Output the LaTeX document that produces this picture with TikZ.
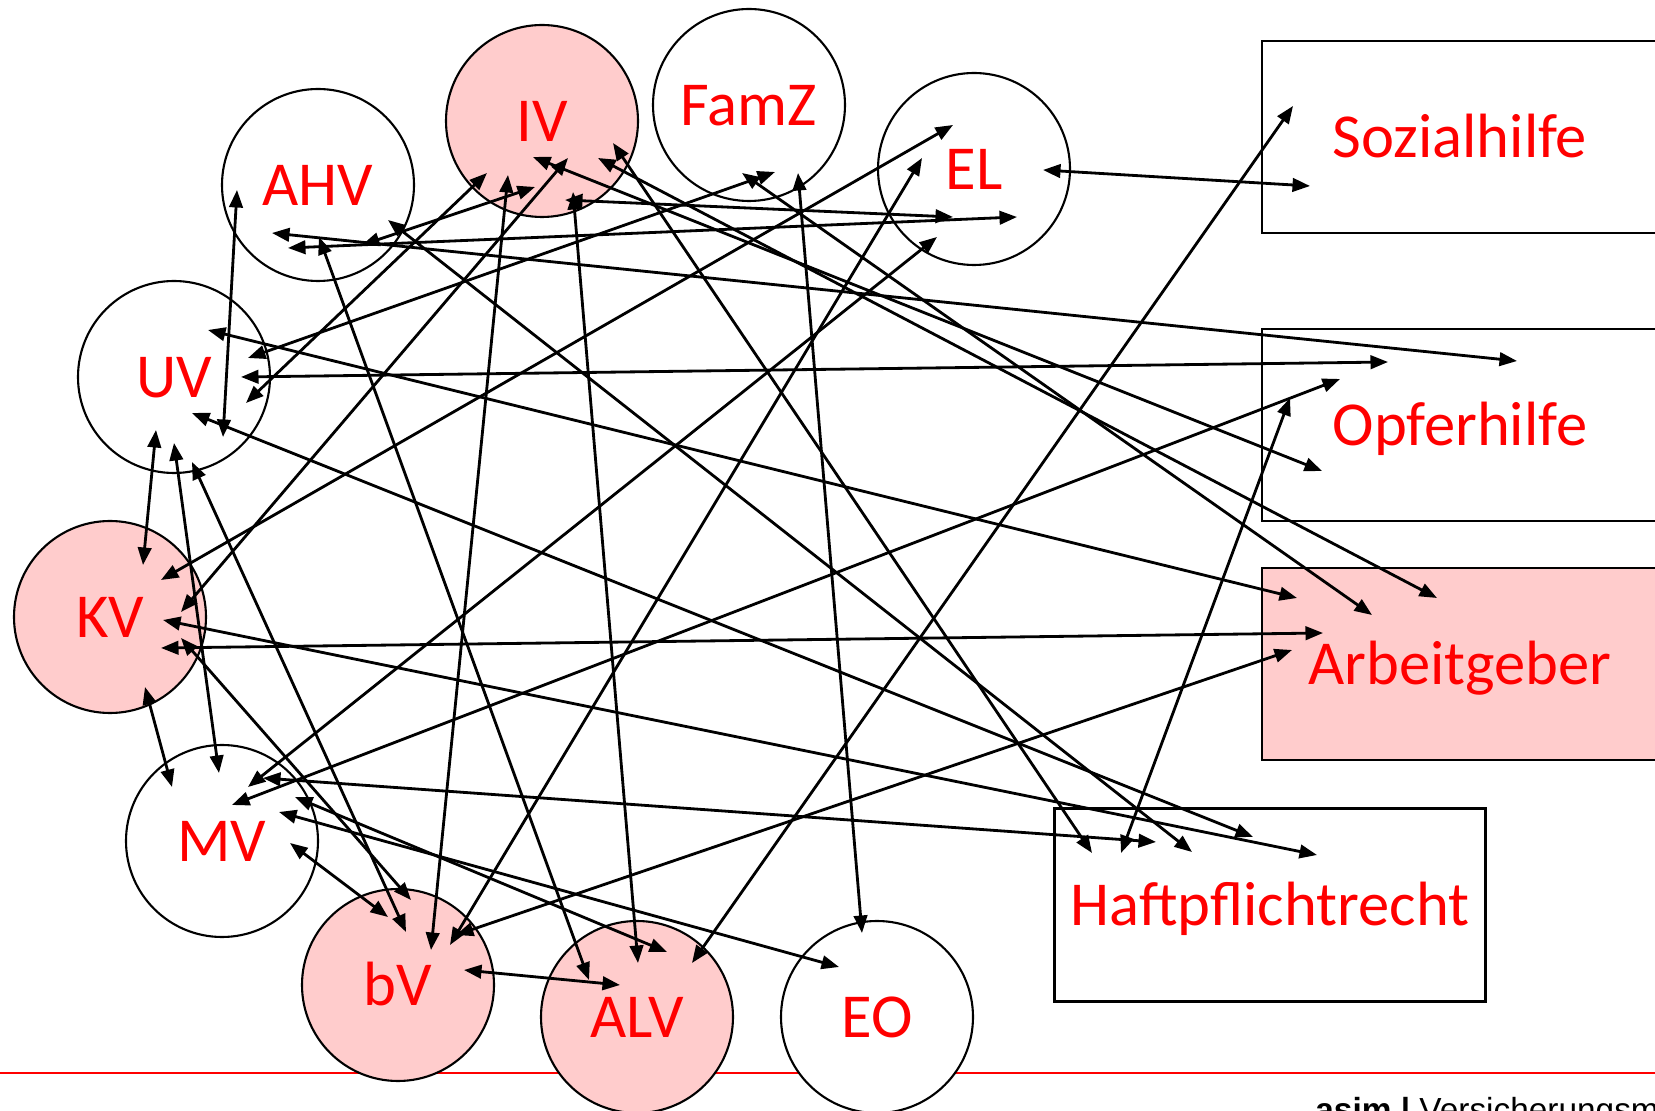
\documentclass[tikz,border=0pt]{standalone}
\usepackage{fontspec}
\setmainfont{Carlito}
\newfontfamily\footfont{Liberation Sans}
\usetikzlibrary{arrows.meta,calc}
\definecolor{lightred}{RGB}{255,204,204}
\tikzset{
	scheme/.style={circle,draw,fill=white,minimum size=19.2mm,inner sep=0pt,line width=0.6pt,text=red,font=\fontsize{17.8}{20}\selectfont,text height=11.4pt,text depth=0pt},
	field/.style={rectangle,draw,fill=white,minimum width=39.6mm,minimum height=19.2mm,inner sep=0pt,line width=0.6pt,text=red,font=\fontsize{17.8}{20}\selectfont,text height=11.4pt,text depth=0pt},
	marked/.style={fill=lightred},
	link/.style={<->,>={Triangle[length=1.75mm,width=1.35mm]},line width=0.8pt,color=black}
}

\begin{document}
\begin{tikzpicture}[x=0.1mm,y=-0.1mm]
	\useasboundingbox (0,0) rectangle (1655,1111);
	\clip (0,0) rectangle (1655,1111);
	
	\coordinate (rulel) at (0,1073);
	\coordinate (ruler) at (1655,1073);
	\draw[red,line width=0.2mm] (rulel) -- (ruler);
	\node[anchor=base east,font=\footfont\fontsize{9.5}{11}\selectfont] (page) at (10,1124) {5};
	\node[anchor=base west,font=\footfont\fontsize{9.5}{11}\selectfont] (foot) at (1303,1121) {\textbf{asim |} Versicherungsmedizin};
	
	% Sozialversicherungen
	\node [scheme] (ahv) at (318,185) {AHV};
	\node [scheme,marked] (iv) at (542,121) {IV};
	\node [scheme] (famz) at (749,105) {FamZ};
	\node [scheme] (el) at (974,169) {EL};
	\node [scheme] (uv) at (174,377) {UV};
	\node [scheme,marked] (kv) at (110,617) {KV};
	\node [scheme] (mv) at (222,841) {MV};
	\node [scheme,marked] (bv) at (398,985) {bV};
	\node [scheme,marked] (alv) at (637,1017) {ALV};
	\node [scheme] (eo) at (877,1017) {EO};
	
	% weitere Leistungstraeger
	\node [field] (soz) at (1460,137) {Sozialhilfe};
	\node [field] (opfer) at (1460,425) {Opferhilfe};
	\node [field,marked] (arbg) at (1460,664) {Arbeitgeber};
	\node [field,minimum width=43.1mm,minimum height=19.3mm] (haft) at (1270,905) {Haftpflichtrecht};
	
	\draw[link] ($(el)+(69,1)$) -- ($(soz)+(-150,49)$);
	\draw[link] ($(alv)+(55,-54)$) -- ($(soz)+(-167,-31)$);
	\draw[link] ($(kv)+(51,-37)$) -- ($(el)+(-21,-44)$);
	\draw[link] ($(bv)+(52,-40)$) -- ($(el)+(-52,-11)$);
	\draw[link] ($(mv)+(26,-54)$) -- ($(el)+(-37,68)$);
	\draw[link] ($(iv)+(23,79)$) -- ($(el)+(-21,48)$);
	\draw[link] ($(ahv)+(-30,63)$) -- ($(el)+(43,48)$);
	\draw[link] ($(ahv)+(-46,48)$) -- ($(opfer)+(57,-64)$);
	\draw[link] ($(uv)+(67,0)$) -- ($(opfer)+(-72,-63)$);
	\draw[link] ($(mv)+(10,-36)$) -- ($(opfer)+(-120,-46)$);
	\draw[link] ($(iv)+(-9,36)$) -- ($(opfer)+(-138,46)$);
	\draw[link] ($(haft)+(-149,-52)$) -- ($(opfer)+(-170,-27)$);
	\draw[link] ($(uv)+(34,-47)$) -- ($(arbg)+(-163,-66)$);
	\draw[link] ($(kv)+(51,31)$) -- ($(arbg)+(-137,-31)$);
	\draw[link] ($(bv)+(58,-50)$) -- ($(arbg)+(-168,-14)$);
	\draw[link] ($(famz)+(-7,68)$) -- ($(arbg)+(-88,-49)$);
	\draw[link] ($(iv)+(56,37)$) -- ($(arbg)+(-23,-66)$);
	\draw[link] ($(iv)+(71,22)$) -- ($(haft)+(-178,-52)$);
	\draw[link] ($(ahv)+(70,35)$) -- ($(haft)+(-78,-53)$);
	\draw[link] ($(uv)+(18,36)$) -- ($(haft)+(-17,-68)$);
	\draw[link] ($(kv)+(53,3)$) -- ($(haft)+(47,-50)$);
	\draw[link] ($(mv)+(41,-63)$) -- ($(haft)+(-114,-63)$);
	\draw[link] ($(famz)+(49,68)$) -- ($(eo)+(-15,-84)$);
	\draw[link] ($(uv)+(74,-19)$) -- ($(famz)+(26,67)$);
	\draw[link] ($(ahv)+(-81,5)$) -- ($(uv)+(49,60)$);
	\draw[link] ($(ahv)+(1,52)$) -- ($(alv)+(-48,-37)$);
	\draw[link] ($(ahv)+(44,60)$) -- ($(iv)+(-7,66)$);
	\draw[link] ($(uv)+(72,26)$) -- ($(iv)+(-55,52)$);
	\draw[link] ($(kv)+(71,-5)$) -- ($(iv)+(26,37)$);
	\draw[link] ($(iv)+(-34,54)$) -- ($(bv)+(33,-35)$);
	\draw[link] ($(iv)+(31,71)$) -- ($(alv)+(1,-54)$);
	\draw[link] ($(uv)+(-18,53)$) -- ($(kv)+(33,-52)$);
	\draw[link] ($(uv)+(0,66)$) -- ($(mv)+(-3,-68)$);
	\draw[link] ($(uv)+(18,85)$) -- ($(bv)+(8,-53)$);
	\draw[link] ($(kv)+(71,21)$) -- ($(bv)+(13,-85)$);
	\draw[link] ($(kv)+(35,70)$) -- ($(mv)+(-50,-54)$);
	\draw[link] ($(mv)+(68,2)$) -- ($(bv)+(-10,-68)$);
	\draw[link] ($(mv)+(73,-44)$) -- ($(alv)+(30,-65)$);
	\draw[link] ($(mv)+(57,-29)$) -- ($(eo)+(-38,-50)$);
	\draw[link] ($(bv)+(66,-15)$) -- ($(alv)+(-17,-32)$);
	
\end{tikzpicture}
\end{document}
